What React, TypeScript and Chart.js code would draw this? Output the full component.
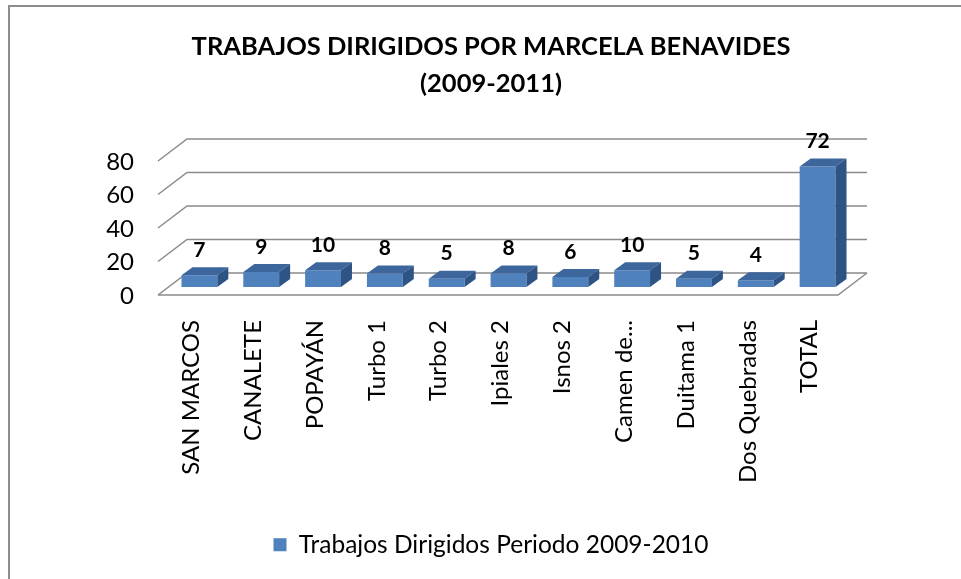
import React, { useEffect, useRef } from "react";
import { Chart, registerables } from "chart.js";

Chart.register(...registerables);

const categories = [
  "SAN MARCOS",
  "CANALETE",
  "POPAYÁN",
  "Turbo 1",
  "Turbo 2",
  "Ipiales 2",
  "Isnos 2",
  "Camen de...",
  "Duitama 1",
  "Dos Quebradas",
  "TOTAL",
];
const values = [7, 9, 10, 8, 5, 8, 6, 10, 5, 4, 72];
const yTickValues = [0, 20, 40, 60, 80];
const titleLines = ["TRABAJOS DIRIGIDOS POR MARCELA BENAVIDES", "(2009-2011)"];
const seriesName = "Trabajos Dirigidos Periodo 2009-2010";

const W = 961;
const H = 579;
const FONT = "Lato, 'Open Sans', sans-serif";
const BOTTOM_PAD = 12;

// 3D geometry offsets relative to the bar plane
const FLOOR_FRONT = { dx: -10.5, dy: 8 };
const BACK_WALL = { dx: 18.5, dy: -14 };
const BAR_DEPTH = { dx: 11, dy: -8 };
const GRID_COLOR = "#8a8a8a";
const FRONT_COLOR = "#4F81BD";
const TOP_COLOR = "#3C669C";
const SIDE_COLOR = "#2E5385";

const threeD = {
  id: "threeD",
  beforeDatasetsDraw(chart: any) {
    const { ctx, chartArea, scales } = chart;
    const ys = scales.y;
    const left = chartArea.left;
    const right = chartArea.right;
    ctx.save();
    ctx.strokeStyle = GRID_COLOR;
    ctx.lineWidth = 1.5;
    yTickValues.forEach((v) => {
      const yp = ys.getPixelForValue(v);
      ctx.beginPath();
      ctx.moveTo(left + FLOOR_FRONT.dx, yp + FLOOR_FRONT.dy);
      ctx.lineTo(left + BACK_WALL.dx, yp + BACK_WALL.dy);
      ctx.lineTo(right + BACK_WALL.dx, yp + BACK_WALL.dy);
      ctx.stroke();
    });
    const y0 = ys.getPixelForValue(0);
    ctx.beginPath();
    ctx.moveTo(left + FLOOR_FRONT.dx, y0 + FLOOR_FRONT.dy);
    ctx.lineTo(right + FLOOR_FRONT.dx, y0 + FLOOR_FRONT.dy);
    ctx.lineTo(right + BACK_WALL.dx, y0 + BACK_WALL.dy);
    ctx.stroke();
    ctx.restore();
  },
  afterDatasetsDraw(chart: any) {
    const { ctx } = chart;
    const meta = chart.getDatasetMeta(0);
    ctx.save();
    meta.data.forEach((bar: any, i: number) => {
      const { x, y, base, width } = bar.getProps(["x", "y", "base", "width"], true);
      const l = x - width / 2;
      const r = x + width / 2;
      // top face
      ctx.fillStyle = TOP_COLOR;
      ctx.beginPath();
      ctx.moveTo(l, y);
      ctx.lineTo(r, y);
      ctx.lineTo(r + BAR_DEPTH.dx, y + BAR_DEPTH.dy);
      ctx.lineTo(l + BAR_DEPTH.dx, y + BAR_DEPTH.dy);
      ctx.closePath();
      ctx.fill();
      // side face
      ctx.fillStyle = SIDE_COLOR;
      ctx.beginPath();
      ctx.moveTo(r, y);
      ctx.lineTo(r + BAR_DEPTH.dx, y + BAR_DEPTH.dy);
      ctx.lineTo(r + BAR_DEPTH.dx, base + BAR_DEPTH.dy);
      ctx.lineTo(r, base);
      ctx.closePath();
      ctx.fill();
      // value label
      ctx.fillStyle = "#000";
      ctx.font = `bold 21px ${FONT}`;
      ctx.textAlign = "center";
      ctx.textBaseline = "middle";
      ctx.fillText(String(values[i]), x, y - 25);
    });
    ctx.restore();
  },
};

export default function App() {
  const ref = useRef<HTMLCanvasElement | null>(null);
  useEffect(() => {
    if (!ref.current) return;
    const chart = new Chart(ref.current, {
      type: "bar",
      data: {
        labels: categories,
        datasets: [
          {
            label: seriesName,
            data: values,
            backgroundColor: FRONT_COLOR,
            borderWidth: 0,
            barPercentage: 0.58,
            categoryPercentage: 1,
          },
        ],
      },
      options: {
        responsive: false,
        animation: false,
        events: [],
        layout: { padding: { left: 21, right: 0, top: 0, bottom: BOTTOM_PAD } },
        plugins: {
          tooltip: { enabled: false },
          title: {
            display: true,
            text: titleLines,
            color: "#000",
            font: { family: FONT, size: 25.5, weight: "bold", lineHeight: 37 / 25.5 },
            padding: { top: 28.5, bottom: 50.5 },
          },
          legend: {
            display: true,
            position: "bottom",
            labels: {
              color: "#000",
              font: { family: FONT, size: 24.5 },
              boxWidth: 13,
              boxHeight: 13,
              padding: 10,
            },
          },
        },
        scales: {
          x: {
            grid: { display: false, drawTicks: false },
            border: { display: false },
            ticks: {
              autoSkip: false,
              maxRotation: 90,
              minRotation: 90,
              padding: 33,
              labelOffset: -8,
              color: "#000",
              font: { family: FONT, size: 24 },
            },
            afterFit: (s: any) => {
              const lh = s.chart.legend ? s.chart.legend.height : 0;
              s.height = H - BOTTOM_PAD - 287 - lh;
            },
          },
          y: {
            min: 0,
            max: 80,
            grid: { display: false, drawTicks: false },
            border: { display: false },
            ticks: {
              stepSize: 20,
              padding: 34.5,
              labelOffset: 9,
              color: "#000",
              font: { family: FONT, size: 24 },
            },
            afterFit: (s: any) => {
              s.width = 168.5 - 21;
            },
          },
          yR: {
            position: "right",
            display: true,
            grid: { display: false, drawTicks: false },
            border: { display: false },
            ticks: { display: false },
            afterFit: (s: any) => {
              s.width = W - 848.5;
            },
          },
        },
      },
      plugins: [threeD],
    });
    return () => chart.destroy();
  }, []);

  return (
    <div style={{ position: "fixed", left: 0, top: 0, width: W, height: H, background: "#fff" }}>
      <canvas ref={ref} width={W} height={H} style={{ display: "block" }} />
      <div
        style={{
          position: "absolute",
          left: 8,
          top: 5,
          width: W,
          height: H,
          borderLeft: "2px solid #8c8c8c",
          borderTop: "2px solid #8c8c8c",
          pointerEvents: "none",
        }}
      />
    </div>
  );
}
